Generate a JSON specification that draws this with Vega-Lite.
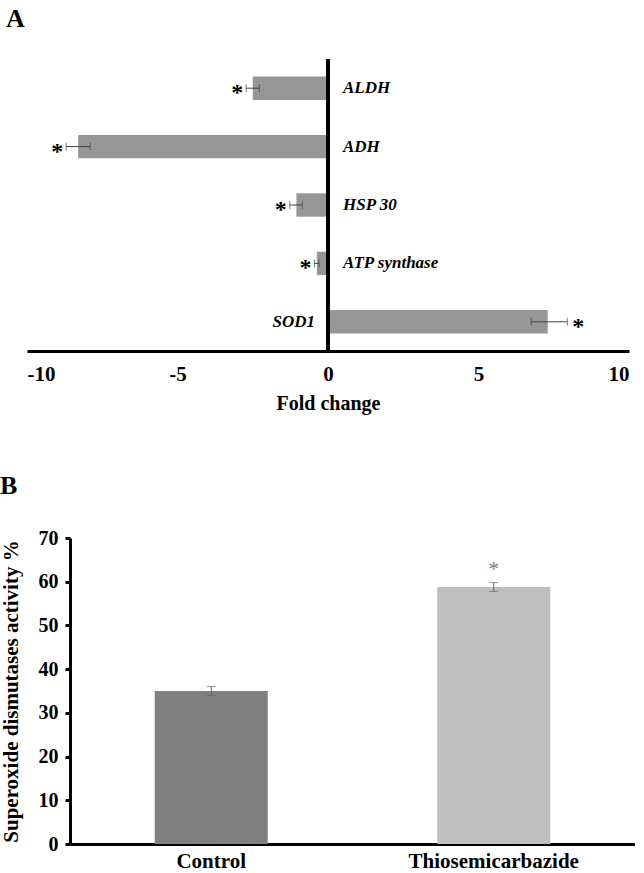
{
  "$schema": "https://vega.github.io/schema/vega-lite/v6.json",
  "background": "white",
  "padding": {"left": 0, "top": 5, "right": 0, "bottom": 5},
  "config": {
    "view": {"stroke": null},
    "font": "Liberation Serif",
    "axis": {"grid": false, "labelFont": "Liberation Serif", "titleFont": "Liberation Serif", "labelColor": "black", "titleColor": "black", "domainColor": "black", "tickColor": "black"}
  },
  "datasets": {
    "genes": [
      {"gene": "ALDH", "fc": -2.5, "lo": -2.72, "hi": -2.28, "star": "*"},
      {"gene": "ADH", "fc": -8.3, "lo": -8.7, "hi": -7.9, "star": "*"},
      {"gene": "HSP 30", "fc": -1.05, "lo": -1.27, "hi": -0.85, "star": "*"},
      {"gene": "ATP synthase", "fc": -0.37, "lo": -0.45, "hi": -0.3, "star": "*"},
      {"gene": "SOD1", "fc": 7.3, "lo": 6.75, "hi": 7.95, "star": "*"}
    ],
    "sod": [
      {"group": "Control", "value": 35, "lo": 34, "hi": 36, "star": ""},
      {"group": "Thiosemicarbazide", "value": 58.8, "lo": 57.8, "hi": 59.8, "star": "*"}
    ]
  },
  "spacing": 60,
  "vconcat": [
    {
      "width": 602,
      "height": 292,
      "title": {"text": "A", "anchor": "start", "frame": "group", "dx": -21, "fontSize": 26, "font": "Liberation Serif", "fontWeight": "bold", "color": "black", "baseline": "alphabetic", "offset": 5},
      "data": {"name": "genes"},
      "layer": [
        {
          "mark": {"type": "bar", "color": "#969696"},
          "encoding": {
            "y": {"field": "gene", "type": "nominal", "sort": ["ALDH", "ADH", "HSP 30", "ATP synthase", "SOD1"], "scale": {"paddingInner": 0.6, "paddingOuter": 0.3}, "axis": null},
            "x": {"field": "fc", "type": "quantitative", "title": "Fold change", "scale": {"domain": [-10, 10], "nice": false},
              "axis": {"values": [-10, -5, 0, 5, 10], "labelExpr": "'' + datum.value", "ticks": false, "domainWidth": 3, "labelFontSize": 21, "labelFontWeight": "bold", "labelPadding": 12, "titleFontSize": 20, "titleFontWeight": "bold", "titlePadding": 9}}
          }
        },
        {
          "mark": {"type": "rule", "color": "#444444", "strokeWidth": 1},
          "encoding": {
            "y": {"field": "gene", "type": "nominal", "sort": ["ALDH", "ADH", "HSP 30", "ATP synthase", "SOD1"]},
            "x": {"field": "lo", "type": "quantitative", "title": "Fold change"},
            "x2": {"field": "hi"}
          }
        },
        {
          "mark": {"type": "tick", "color": "#444444", "thickness": 1, "size": 8, "orient": "vertical"},
          "encoding": {
            "y": {"field": "gene", "type": "nominal", "sort": ["ALDH", "ADH", "HSP 30", "ATP synthase", "SOD1"]},
            "x": {"field": "lo", "type": "quantitative", "title": "Fold change"}
          }
        },
        {
          "mark": {"type": "tick", "color": "#444444", "thickness": 1, "size": 8, "orient": "vertical"},
          "encoding": {
            "y": {"field": "gene", "type": "nominal", "sort": ["ALDH", "ADH", "HSP 30", "ATP synthase", "SOD1"]},
            "x": {"field": "hi", "type": "quantitative", "title": "Fold change"}
          }
        },
        {
          "mark": {"type": "rule", "color": "black", "strokeWidth": 3},
          "encoding": {"x": {"datum": 0}}
        },
        {
          "transform": [{"filter": "datum.fc < 0"}],
          "mark": {"type": "text", "align": "left", "baseline": "middle", "dx": 15, "fontSize": 17, "fontStyle": "italic", "fontWeight": "bold", "font": "Liberation Serif", "color": "black"},
          "encoding": {
            "y": {"field": "gene", "type": "nominal", "sort": ["ALDH", "ADH", "HSP 30", "ATP synthase", "SOD1"]},
            "x": {"datum": 0},
            "text": {"field": "gene"}
          }
        },
        {
          "transform": [{"filter": "datum.fc > 0"}],
          "mark": {"type": "text", "align": "right", "baseline": "middle", "dx": -13, "fontSize": 17, "fontStyle": "italic", "fontWeight": "bold", "font": "Liberation Serif", "color": "black"},
          "encoding": {
            "y": {"field": "gene", "type": "nominal", "sort": ["ALDH", "ADH", "HSP 30", "ATP synthase", "SOD1"]},
            "x": {"datum": 0},
            "text": {"field": "gene"}
          }
        },
        {
          "transform": [{"filter": "datum.fc < 0"}],
          "mark": {"type": "text", "align": "right", "baseline": "middle", "dx": -3, "dy": 5, "fontSize": 24, "fontWeight": "bold", "font": "Liberation Serif", "color": "black"},
          "encoding": {
            "y": {"field": "gene", "type": "nominal", "sort": ["ALDH", "ADH", "HSP 30", "ATP synthase", "SOD1"]},
            "x": {"field": "lo", "type": "quantitative", "title": "Fold change"},
            "text": {"field": "star"}
          }
        },
        {
          "transform": [{"filter": "datum.fc > 0"}],
          "mark": {"type": "text", "align": "left", "baseline": "middle", "dx": 5, "dy": 5, "fontSize": 24, "fontWeight": "bold", "font": "Liberation Serif", "color": "black"},
          "encoding": {
            "y": {"field": "gene", "type": "nominal", "sort": ["ALDH", "ADH", "HSP 30", "ATP synthase", "SOD1"]},
            "x": {"field": "hi", "type": "quantitative", "title": "Fold change"},
            "text": {"field": "star"}
          }
        }
      ]
    },
    {
      "width": 608,
      "height": 306,
      "title": {"text": "B", "anchor": "start", "frame": "bounds", "fontSize": 26, "font": "Liberation Serif", "fontWeight": "bold", "color": "black", "baseline": "alphabetic", "offset": 8},
      "data": {"name": "sod"},
      "encoding": {
        "x": {"field": "group", "type": "nominal", "sort": ["Control", "Thiosemicarbazide"], "scale": {"range": [43, 608], "paddingInner": 0.6, "paddingOuter": 0.3},
          "axis": {"title": null, "labelAngle": 0, "ticks": false, "domainWidth": 3, "labelFontSize": 21, "labelFontWeight": "bold", "labelPadding": 6}}
      },
      "layer": [
        {
          "mark": {"type": "bar"},
          "encoding": {
            "y": {"field": "value", "type": "quantitative", "title": "Superoxide dismutases activity %", "scale": {"domain": [0, 70], "nice": false},
              "axis": {"values": [0, 10, 20, 30, 40, 50, 60, 70], "offset": -43, "tickSize": 5, "tickWidth": 3, "domainWidth": 3, "labelFontSize": 20, "labelFontWeight": "bold", "labelPadding": 7, "titleFontSize": 21, "titleFontWeight": "bold", "titlePadding": 17}},
            "color": {"field": "group", "type": "nominal", "scale": {"domain": ["Control", "Thiosemicarbazide"], "range": ["#808080", "#bfbfbf"]}, "legend": null}
          }
        },
        {
          "mark": {"type": "rule", "color": "#666666", "strokeWidth": 1},
          "encoding": {
            "y": {"field": "lo", "type": "quantitative", "title": "Superoxide dismutases activity %"},
            "y2": {"field": "hi"}
          }
        },
        {
          "mark": {"type": "tick", "color": "#666666", "thickness": 1, "size": 9, "orient": "horizontal"},
          "encoding": {"y": {"field": "lo", "type": "quantitative", "title": "Superoxide dismutases activity %"}}
        },
        {
          "mark": {"type": "tick", "color": "#666666", "thickness": 1, "size": 9, "orient": "horizontal"},
          "encoding": {"y": {"field": "hi", "type": "quantitative", "title": "Superoxide dismutases activity %"}}
        },
        {
          "mark": {"type": "text", "align": "center", "baseline": "bottom", "dy": -2, "fontSize": 22, "font": "Liberation Serif", "color": "#808080"},
          "encoding": {
            "y": {"field": "hi", "type": "quantitative", "title": "Superoxide dismutases activity %"},
            "text": {"field": "star"}
          }
        }
      ]
    }
  ]
}
